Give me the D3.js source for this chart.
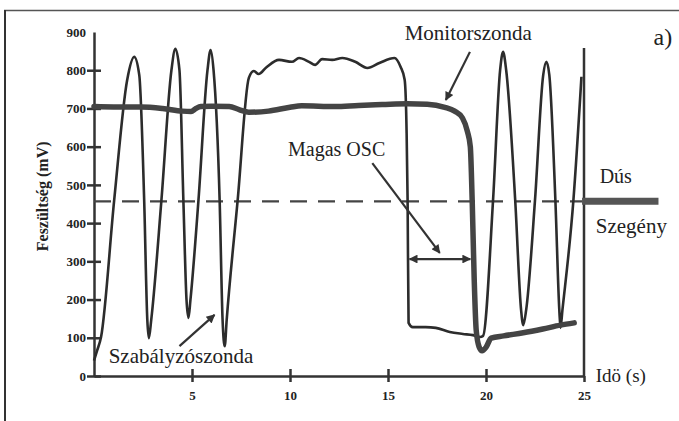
<!DOCTYPE html>
<html>
<head>
<meta charset="utf-8">
<script src="https://cdn.jsdelivr.net/npm/d3@7"></script>
<style>
  body { margin: 0; background: #fff; }
  svg { display: block; }
</style>
</head>
<body>
<svg id="chart"></svg>
<script>
// time (s) and voltage (mV)
const monitorT = [0, 1, 2.4, 3.5, 4.5, 4.95, 5.2, 5.45, 6.0, 6.9, 7.4, 7.9, 8.9, 10.0, 10.6, 12.3, 13.5, 14.7, 16, 17, 17.9, 18.4, 18.8, 19.05, 19.2, 19.3, 19.4, 19.5, 19.65, 19.8, 20.0, 20.26, 20.9, 21.9, 22.9, 23.8, 24.5];
const monitorV = [705, 704, 704, 700, 693, 692, 700, 705, 706, 705, 697, 690, 693, 703, 707, 705, 708, 710, 712, 711, 703, 693, 675, 640, 600, 450, 250, 120, 76, 66, 75, 99, 105, 113, 123, 133, 139];

const controlT = [0, 0.15, 0.36, 1.03, 1.69, 2.05, 2.31, 2.56, 2.72, 2.8, 2.92, 3.44, 3.95, 4.15, 4.36, 4.56, 4.72, 4.82, 4.92, 5.33, 5.79, 5.95, 6.1, 6.41, 6.56, 6.67, 6.77, 7.33, 7.9, 8.15, 8.4, 8.8, 9.44, 10.1, 10.46, 10.97, 11.28, 11.64, 12.15, 12.67, 13.33, 13.95, 14.56, 15.33, 15.64, 15.85, 15.95, 16.0, 16.05, 16.26, 16.92, 17.44, 18.15, 18.82, 19.33, 19.7, 19.85, 20.36, 20.72, 20.87, 21.03, 21.49, 21.79, 21.9, 22.05, 22.5, 22.92, 23.08, 23.23, 23.54, 23.74, 23.8, 23.9, 24.46, 24.87];
const controlV = [40, 65, 102, 460, 774, 835, 787, 460, 147, 99, 147, 460, 800, 856, 800, 460, 199, 152, 199, 460, 800, 853, 800, 460, 147, 78, 147, 460, 780, 798, 790, 808, 827, 822, 832, 822, 814, 829, 827, 832, 822, 806, 819, 832, 809, 775, 636, 461, 139, 128, 128, 126, 115, 110, 107, 102, 105, 460, 800, 848, 800, 460, 173, 133, 173, 460, 788, 822, 788, 460, 173, 126, 173, 460, 783];

const yTicks = [0, 100, 200, 300, 400, 500, 600, 700, 800, 900];
const xTicks = [5, 10, 15, 20, 25];
const threshold = 457;   // Dús / Szegény boundary
const endMarkV = 858;    // vertical line at t = 25

const serif = '"Liberation Serif", "DejaVu Serif", "Times New Roman", serif';

const W = 679, H = 421;
const margin = { top: 32, right: 95, bottom: 45, left: 94 };
const width = W - margin.left - margin.right;
const height = H - margin.top - margin.bottom;

const svg = d3.select("#chart").attr("width", W).attr("height", H);

// scan frame (top and left edges only)
svg.append("line").attr("x1", 4).attr("x2", W).attr("y1", 10.5).attr("y2", 10.5)
  .attr("stroke", "#555").attr("stroke-width", 1.5);
svg.append("line").attr("x1", 5).attr("x2", 5).attr("y1", 10).attr("y2", H)
  .attr("stroke", "#333").attr("stroke-width", 2);

const g = svg.append("g").attr("transform", "translate(" + margin.left + "," + margin.top + ")");

const x = d3.scaleLinear().domain([0, 25]).range([0, width]);
const y = d3.scaleLinear().domain([0, 900]).range([height, 0]);

// axes with ticks crossing the line
const yAxis = d3.axisLeft(y).tickValues(yTicks).tickSizeInner(7).tickSizeOuter(0).tickPadding(1);
const xAxis = d3.axisBottom(x).tickValues(xTicks).tickSizeInner(6).tickSizeOuter(0).tickPadding(9);

const ya = g.append("g").call(yAxis);
ya.selectAll(".tick line").attr("x2", d => d === 900 ? -7 : 7).attr("x1", -7);
const xa = g.append("g").attr("transform", "translate(0," + height + ")").call(xAxis);
xa.selectAll(".tick line").attr("y1", -7);
[ya, xa].forEach(a => {
  a.attr("font-family", null).attr("font-size", null);
  a.select(".domain").attr("stroke", "#333").attr("stroke-width", 2.5);
  a.selectAll(".tick line").attr("stroke", "#333").attr("stroke-width", 2.5);
  a.selectAll(".tick text").attr("fill", "#222")
    .style("font-family", serif).style("font-weight", "bold").style("font-size", "13px");
});
xa.select(".tick:last-child line").attr("y1", 0);

// right edge line at t = 25
g.append("line")
  .attr("x1", x(25)).attr("x2", x(25)).attr("y1", y(0)).attr("y2", y(endMarkV))
  .attr("stroke", "#333").attr("stroke-width", 2.5);

// rich/lean threshold
g.append("line")
  .attr("x1", x(0)).attr("x2", x(24.9)).attr("y1", y(threshold)).attr("y2", y(threshold))
  .attr("stroke", "#444").attr("stroke-width", 2.3).attr("stroke-dasharray", "17,11");
g.append("line")
  .attr("x1", x(24.9)).attr("x2", x(28.8)).attr("y1", y(threshold)).attr("y2", y(threshold))
  .attr("stroke", "#555").attr("stroke-width", 7);

const line = d3.line().curve(d3.curveMonotoneX).x(d => x(d[0])).y(d => y(d[1]));

g.append("path").datum(controlT.map((t, i) => [t, controlV[i]]))
  .attr("d", line).attr("fill", "none").attr("stroke", "#2c2c2c")
  .attr("stroke-width", 2.6).attr("stroke-linejoin", "round");

g.append("path").datum(monitorT.map((t, i) => [t, monitorV[i]]))
  .attr("d", line).attr("fill", "none").attr("stroke", "#444")
  .attr("stroke-width", 5.5).attr("stroke-linejoin", "round").attr("stroke-linecap", "round");

// arrowheads
const defs = svg.append("defs");
[["arrEnd", "auto"], ["arrStart", "auto-start-reverse"]].forEach(([id, orient]) => {
  defs.append("marker").attr("id", id).attr("viewBox", "0 0 10 10")
    .attr("refX", 9).attr("refY", 5).attr("markerWidth", 5.5).attr("markerHeight", 4)
    .attr("orient", orient).attr("markerUnits", "strokeWidth")
    .append("path").attr("d", "M0,0L10,5L0,10z").attr("fill", "#333");
});

const arrows = [
  { from: [19.18, 848], to: [17.95, 722], both: false },
  { from: [14.2, 557], to: [17.64, 322], both: false },
  { from: [16.1, 306], to: [19.2, 306], both: true },
  { from: [4.36, 78], to: [6.15, 160], both: false }
];
arrows.forEach(a => {
  const l = g.append("line")
    .attr("x1", x(a.from[0])).attr("y1", y(a.from[1]))
    .attr("x2", x(a.to[0])).attr("y2", y(a.to[1]))
    .attr("stroke", "#333").attr("stroke-width", 2.2)
    .attr("marker-end", "url(#arrEnd)");
  if (a.both) l.attr("marker-start", "url(#arrStart)");
});

// text labels, anchored in data coords
const labels = [
  { text: "Monitorszonda", t: 15.85, v: 879, size: 21 },
  { text: "Magas OSC", t: 9.9, v: 576, size: 20 },
  { text: "Szabályzószonda", t: 0.75, v: 34, size: 21 },
  { text: "Dús", t: 25.8, v: 504, size: 20 },
  { text: "Szegény", t: 25.6, v: 374, size: 21 },
  { text: "Idö (s)", t: 25.6, v: -16, size: 19 },
  { text: "a)", t: 28.55, v: 866, size: 24 }
];
g.selectAll(".lbl").data(labels).enter().append("text")
  .attr("class", "lbl")
  .attr("x", d => x(d.t)).attr("y", d => y(d.v))
  .attr("fill", "#222")
  .style("font-family", serif)
  .style("font-size", d => d.size + "px")
  .text(d => d.text);

// y axis title
svg.append("text")
  .attr("transform", "translate(48," + (margin.top + y(470)) + ") rotate(-90)")
  .attr("text-anchor", "middle")
  .attr("fill", "#222")
  .style("font-family", serif)
  .style("font-size", "16px").style("font-weight", "bold")
  .text("Feszültség (mV)");
</script>
</body>
</html>
